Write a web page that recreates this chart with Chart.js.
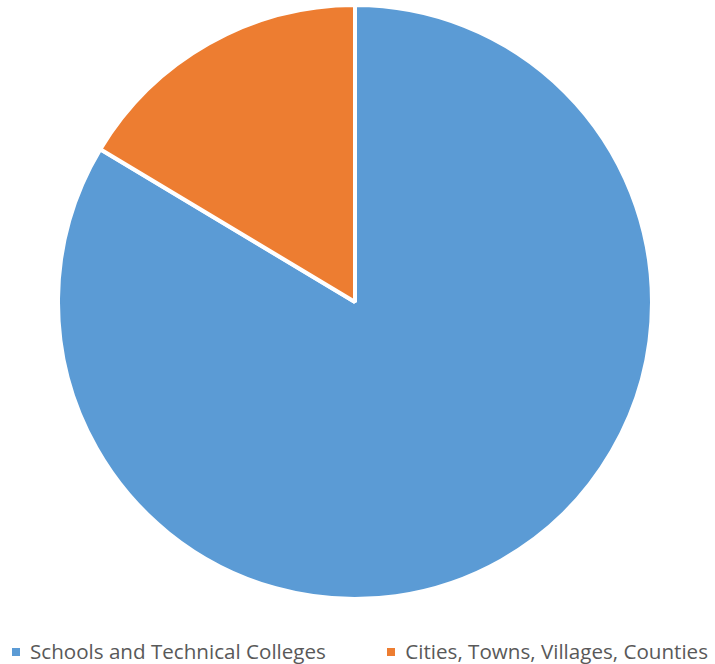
<!DOCTYPE html>
<html>
<head>
<meta charset="utf-8">
<script src="https://cdn.jsdelivr.net/npm/chart.js@4.4.1/dist/chart.umd.min.js"></script>
<style>
  html, body { margin: 0; padding: 0; background: #fff; }
  #wrap { position: relative; width: 715px; height: 604px; }
  #legend {
    display: flex; justify-content: space-between; align-items: center;
    width: 715px; box-sizing: border-box; padding: 0 7px 0 12px;
    margin-top: 33px;
    font-family: "Open Sans", sans-serif; font-size: 20.6px; color: #595959;
    line-height: 28px;
  }
  .item { display: flex; align-items: center; white-space: nowrap; }
  .box { width: 8px; height: 8px; margin-right: 10px; margin-top: 2px; }
</style>
</head>
<body>
<div id="wrap"><canvas id="pieChart"></canvas></div>
<div id="legend"></div>
<script>
// categories and their shares
const categories = ["Schools and Technical Colleges", "Cities, Towns, Villages, Counties"];
const shares = [83.6, 16.4];
const colors = ["#5B9BD5", "#ED7D31"];

const ctx = document.getElementById("pieChart").getContext("2d");
const pieChart = new Chart(ctx, {
    type: "pie",
    data: {
        labels: categories,
        datasets: [{
            data: shares,
            backgroundColor: colors,
            borderColor: "#ffffff",
            borderWidth: 4,
        }],
    },
    options: {
        responsive: true,
        maintainAspectRatio: false,
        animation: false,
        layout: { padding: { top: 3, bottom: 3, left: 0, right: 5 } },
        plugins: {
            legend: { display: false },
            tooltip: { enabled: false },
        },
    },
});

// html legend under the chart
const legend = document.getElementById("legend");
categories.forEach((name, i) => {
    const item = document.createElement("div");
    item.className = "item";
    const box = document.createElement("span");
    box.className = "box";
    box.style.background = colors[i];
    const label = document.createElement("span");
    label.textContent = name;
    item.appendChild(box);
    item.appendChild(label);
    legend.appendChild(item);
});
</script>
</body>
</html>
